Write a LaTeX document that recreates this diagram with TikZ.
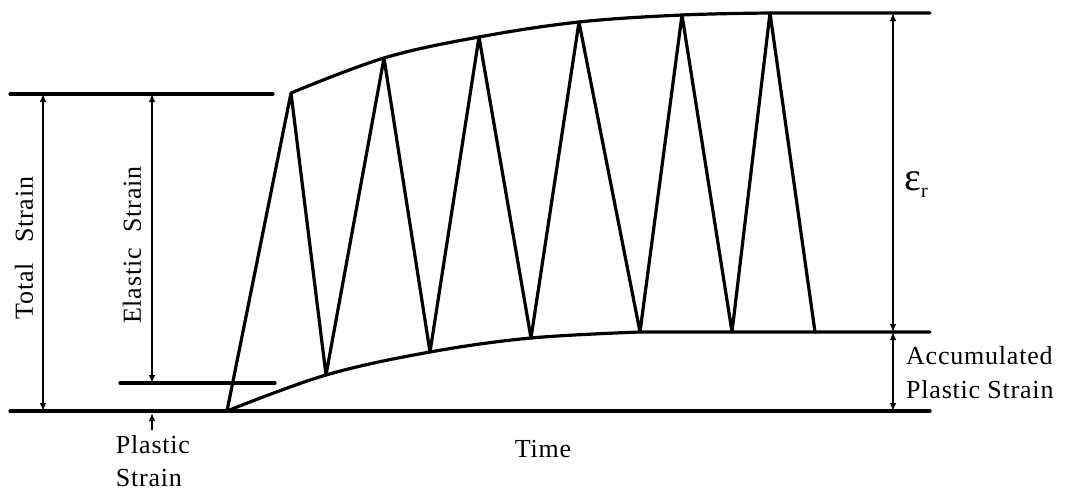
\documentclass[tikz,border=0pt]{standalone}
\usepackage{fontspec}
\setmainfont[LetterSpace=3]{Liberation Serif}
\usetikzlibrary{arrows.meta}
\begin{document}
\begin{tikzpicture}[x=1pt,y=-1pt,
  heavy/.style={line width=3.2pt, line join=round, line cap=round},
  dim/.style={line width=1.3pt, {Latex[length=8pt,width=6.5pt]}-{Latex[length=8pt,width=6.5pt]}},
  onetip/.style={line width=1.3pt, -{Latex[length=8pt,width=6.5pt]}},
  lbl/.style={font=\fontsize{26}{31}\selectfont, inner sep=0pt}]
\useasboundingbox (0,0) rectangle (1067,491);
% key points
\coordinate (s)  at (227,411);
\coordinate (p1) at (291,93);
\coordinate (p2) at (384,58);
\coordinate (p3) at (479,37);
\coordinate (p4) at (579,22);
\coordinate (p5) at (682,15);
\coordinate (p6) at (770,13);
\coordinate (v1) at (326,375);
\coordinate (v2) at (430,352);
\coordinate (v3) at (531,338);
\coordinate (v4) at (640,332);
\coordinate (v5) at (732,332);
\coordinate (e)  at (815,332);
% horizontal reference lines
\coordinate (bl) at (10,411);
\coordinate (br) at (930,411);
\coordinate (tl) at (10,94);
\coordinate (tm) at (273,94);
\coordinate (sl) at (120,383);
\coordinate (sr) at (275,383);
\coordinate (tr) at (930,13);
\coordinate (mr) at (930,332);
\draw[heavy] (bl) -- (br);
\draw[heavy] (tl) -- (tm);
\draw[heavy] (sl) -- (sr);
% envelopes
\draw[heavy] plot[smooth, tension=0.6] coordinates {(p1) (p2) (p3) (p4) (p5) (p6)} -- (tr);
\draw[heavy] plot[smooth, tension=0.6] coordinates {(s) (v1) (v2) (v3) (v4)} -- (mr);
% zigzag
\draw[heavy] (s) -- (p1) -- (v1) -- (p2) -- (v2) -- (p3) -- (v3) -- (p4) -- (v4) -- (p5) -- (v5) -- (p6) -- (e);
% dimension arrows
\coordinate (ta) at (43,94);   \coordinate (tb) at (43,411);
\coordinate (ea) at (152,94);  \coordinate (eb) at (152,383);
\coordinate (ra) at (893,13);  \coordinate (rb) at (893,332);
\coordinate (aa) at (893,332); \coordinate (ab) at (893,411);
\draw[dim] (ta) -- (tb);
\draw[dim] (ea) -- (eb);
\draw[dim] (ra) -- (rb);
\draw[dim] (aa) -- (ab);
% labels
\node[lbl, rotate=90] (total) at (24,248) {Total\hspace{20pt}Strain};
\node[lbl, rotate=90] (elastic) at (132,245) {Elastic\hspace{16pt}Strain};
\node[lbl, anchor=west] (er) at (904,185) {{\fontsize{40}{42}\selectfont ε}\raisebox{-7pt}{\fontsize{20}{22}\selectfont r}};
\node[lbl, anchor=west, align=left] (acc) at (906,373) {Accumulated\\[3pt]Plastic Strain};
\node[lbl, align=left] (ps) at (153,461) {Plastic\\[2pt]Strain};
\node[lbl] (time) at (543,449) {Time};
\coordinate (pa) at (152,430);
\coordinate (pb) at (152,413);
\draw[onetip] (pa) -- (pb);
\end{tikzpicture}
\end{document}
